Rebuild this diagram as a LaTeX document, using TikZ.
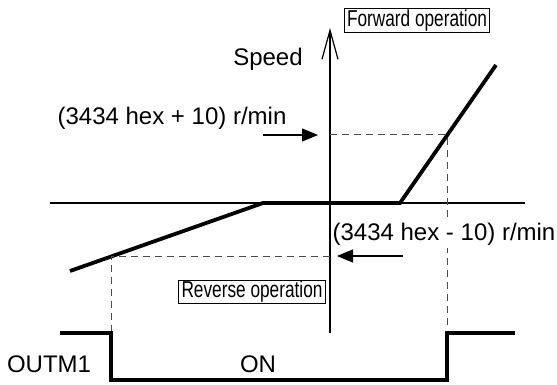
\documentclass[tikz,border=0pt]{standalone}
\usepackage{fontspec}
\setmainfont{Liberation Sans}
\newfontfamily\narrowfont[FakeStretch=0.75]{Liberation Sans}
\usetikzlibrary{arrows.meta,positioning,calc}

\begin{document}
\begin{tikzpicture}[
    x=1pt, y=-1pt,
    thinline/.style={line width=1.2pt},
    curve/.style={line width=3.8pt, line join=miter},
    guide/.style={line width=1pt, dash pattern=on 7pt off 5pt, black!70},
    lbl/.style={font=\fontsize{24}{28}\selectfont, inner sep=0pt},
    opbox/.style={draw, line width=1pt, font=\narrowfont\fontsize{23}{26}\selectfont, inner xsep=3pt, inner ysep=1pt},
    pointer/.style={thinline, -{Triangle[length=16pt,width=13pt]}},
]
\useasboundingbox (0,0) rectangle (557,385);

% axes
\coordinate (axisbot) at (330,333);
\coordinate (axistop) at (330,28);
\coordinate (zl) at (50,203);
\coordinate (zr) at (525,203);
\draw[thinline, -{Straight Barb[length=29pt,width=16pt]}] (axisbot) -- (axistop);
\draw[thinline] (zl) -- (zr);

% speed curve
\coordinate (s0) at (70,271);
\coordinate (s1) at (263,203);
\coordinate (s2) at (400,203);
\coordinate (s3) at (496,65);
\draw[curve] (s0) -- (s1) -- (s2) -- (s3);

% detection levels
\coordinate (fwd) at (447,135);
\coordinate (fwdend) at (447,327);
\coordinate (rev) at (111,256);
\coordinate (revend) at (111,333);
\draw[guide] (axistop |- fwd) -- (fwd) -- (fwdend);
\draw[guide] (axistop |- rev) -- (rev) -- (revend);

% OUTM1 signal
\coordinate (o0) at (60,333);
\coordinate (o1) at (111,333);
\coordinate (o2) at (111,380);
\coordinate (o3) at (447,380);
\coordinate (o4) at (447,333);
\coordinate (o5) at (515,333);
\draw[curve] (o0) -- (o1) -- (o2) -- (o3) -- (o4) -- (o5);

% labels
\node[lbl] (speed) at (268,59) {Speed};
\node[lbl] (plus) at (172,118) {(3434 hex + 10) r/min};
\node[lbl, fill=white, inner ysep=3pt] (minus) at (444,234) {(3434 hex - 10) r/min};
\node[lbl] (outm) at (49,364) {OUTM1};
\node[lbl] (on) at (258,364) {ON};
\node[opbox] (fwdop) at (417,20.5) {Forward operation};
\node[opbox] (revop) at (252,292) {Reverse operation};

% pointers
\coordinate (pa) at (263,135);
\coordinate (pb) at (403,256);
\draw[pointer] (pa) -- (318,135);
\draw[pointer] (pb) -- (337,256);
\end{tikzpicture}
\end{document}
